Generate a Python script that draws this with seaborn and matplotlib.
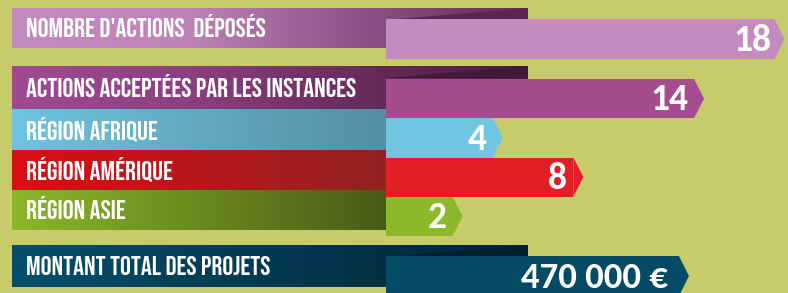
import numpy as np
import pandas as pd
import matplotlib.pyplot as plt
from matplotlib.colors import LinearSegmentedColormap
from matplotlib.patches import Polygon
from matplotlib.transforms import offset_copy
import seaborn as sns

# data
count_labels = ["NOMBRE D'ACTIONS  DÉPOSÉS", "ACTIONS ACCEPTÉES PAR LES INSTANCES",
                "RÉGION AFRIQUE", "RÉGION AMÉRIQUE", "RÉGION ASIE"]
count_values = [18, 14, 4, 8, 2]
money_label = "MONTANT TOTAL DES PROJETS"
money_value = 470000
money_text = "470 000 €"

# colours
bar_colors = ["#C48BBE", "#A44C8F", "#70C5E0", "#E21F27", "#8DB82A"]
money_color = "#034B64"
band_grads = [
    ["#C48BBE", "#BF83B7", "#8F5485", "#68295A"],
    ["#A04A93", "#8C4080", "#6A2C5E", "#4A1B3F"],
    ["#6EC4E0", "#558EA2"],
    ["#DA0F15", "#932222"],
    ["#8CB728", "#485C17"],
]
money_grad = ["#074F6B", "#05405A", "#043249", "#022436"]
fold_colors = ["#5E2450", "#421938", None, None, None]
BG = "#C8CB6A"

W, H = 788, 293
LABEL_FONT = ["Bebas Neue", "DejaVu Sans"]
VALUE_FONT = ["Carlito", "DejaVu Sans"]
LABEL_SIZE = 19.5

sns.set_theme(style="white")
fig = plt.figure(figsize=(W / 100, H / 100), dpi=100, facecolor=BG)


def px_axes(x0, x1, y0, y1):
    return fig.add_axes([x0 / W, 1 - y1 / H, (x1 - x0) / W, (y1 - y0) / H])


# background ribbons with the row titles
bg = px_axes(0, W, 0, H)
bg.axis("off")

bands = [(12, 528, 8, 48), (12, 528, 66, 109), (12, 386, 109, 150),
         (12, 386, 150, 190), (12, 386, 190, 230)]
grad = np.linspace(0, 1, 256).reshape(1, -1)
cap_px = 0.7 * LABEL_SIZE * 100 / 72


def ribbon(box, cols, fold, label):
    x0, x1, y0, y1 = box
    cmap = LinearSegmentedColormap.from_list("r", cols)
    bg.imshow(grad, cmap=cmap, extent=(x0, x1, y1, y0), aspect="auto", zorder=1)
    if fold:
        bg.add_patch(Polygon([(386, y0 + 12), (x1, y0), (x1, y0 + 12)],
                             closed=True, color=fold, zorder=2, lw=0))
    bg.text(26, (y0 + y1) / 2 + cap_px / 2, label, color="white", fontsize=LABEL_SIZE,
            family=LABEL_FONT, va="baseline", ha="left", zorder=3)


for box, cols, fold, lab in zip(bands, band_grads, fold_colors, count_labels):
    ribbon(box, cols, fold, lab)
ribbon((12, 528, 245, 287), money_grad, "#01202F", money_label)
bg.set_xlim(0, W)
bg.set_ylim(H, 0)


def draw_bars(ax, labels, values, colors, xlim, texts, size, pad):
    df = pd.DataFrame({"label": labels, "value": values})
    sns.barplot(data=df, x="value", y="label", hue="label", palette=colors,
                orient="h", width=1, saturation=1, errorbar=None, legend=False, ax=ax)
    ax.set_xlim(*xlim)
    ax.set_ylim(len(labels) - 0.5, -0.5)
    ax.axis("off")
    unit = (xlim[1] - xlim[0]) / 402
    digit_px = 0.63 * size * 100 / 72
    tr = offset_copy(ax.transData, fig=fig, x=-pad, y=-digit_px / 2, units="dots")
    for i, v in enumerate(values):
        p = ax.patches[i]
        p.set_x(xlim[0])
        p.set_width(v - xlim[0])
        p.set_linewidth(0)
        yc = p.get_y() + p.get_height() / 2
        yt, yb = p.get_y(), p.get_y() + p.get_height()
        ax.add_patch(Polygon([(v, yt), (v + 10 * unit, yc), (v, yb)], closed=True,
                             color=colors[i], lw=0))
        ax.text(v, yc, texts[i], color="white", fontsize=size, fontweight="bold",
                family=VALUE_FONT, ha="right", va="baseline", transform=tr)


xl = (-1.31, 18.67)
ax1 = px_axes(386, 788, 19, 59)
ax1.patch.set_alpha(0)
draw_bars(ax1, count_labels[:1], count_values[:1], bar_colors[:1], xl,
          [str(v) for v in count_values[:1]], 27, 3)

ax2 = px_axes(386, 788, 79, 236)
ax2.patch.set_alpha(0)
draw_bars(ax2, count_labels[1:], count_values[1:], bar_colors[1:], xl,
          [str(v) for v in count_values[1:]], 27, 6)

ax3 = px_axes(386, 788, 256, 296)
ax3.patch.set_alpha(0)
draw_bars(ax3, [money_label], [money_value], [money_color], (0, 645000),
          [money_text], 26.5, 11)

fig.savefig("out.png", dpi=100, facecolor=BG)
